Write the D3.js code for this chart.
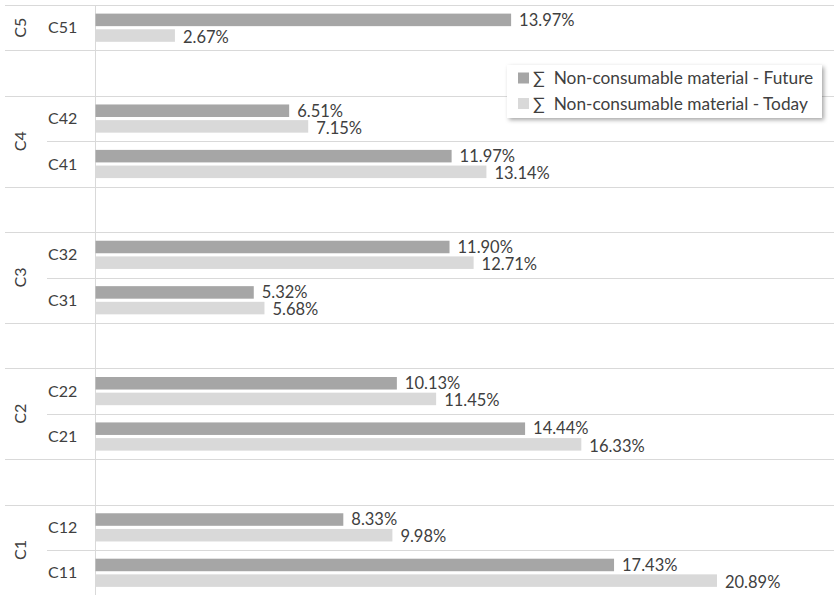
<!DOCTYPE html>
<html>
<head>
<meta charset="utf-8">
<script src="https://cdn.jsdelivr.net/npm/d3@7"></script>
<style>
  html, body { margin: 0; padding: 0; background: #fff; }
  svg { display: block; font-family: Lato, "Noto Sans", sans-serif; }
</style>
</head>
<body>
<svg id="chart" width="834" height="595"></svg>
<script>
// ---- data ----
const groups = ["C5", "C4", "C3", "C2", "C1"];
const categories = ["C51", "C42", "C41", "C32", "C31", "C22", "C21", "C12", "C11"];
const categoryGroup = ["C5", "C4", "C4", "C3", "C3", "C2", "C2", "C1", "C1"];
const futureValues = [13.97, 6.51, 11.97, 11.90, 5.32, 10.13, 14.44, 8.33, 17.43];
const todayValues = [2.67, 7.15, 13.14, 12.71, 5.68, 11.45, 16.33, 9.98, 20.89];
const seriesNames = ["\u2211  Non-consumable material - Future", "\u2211  Non-consumable material - Today"];
const seriesKeys = ["future", "today"];
const seriesColors = ["#a6a6a6", "#d9d9d9"];

// ---- layout ----
const W = 834, H = 595;
const plotLeft = 95.5, plotTop = 5, plotBottom = 595.5;
const svg = d3.select("#chart");

// slots: categories with an empty slot between groups
const slots = [];
groups.forEach((g, gi) => {
  if (gi > 0) slots.push({ id: "gap" + gi, gap: true });
  categories.forEach((c, i) => {
    if (categoryGroup[i] === g) slots.push({ id: c, gap: false, group: g, i });
  });
});

const y = d3.scaleBand().domain(slots.map(s => s.id)).range([plotTop, plotBottom]).padding(0);
const ySub = d3.scaleBand().domain(seriesKeys).range([0, y.bandwidth()]).paddingInner(0.2).paddingOuter(0.55);
const x = d3.scaleLinear().domain([0, 25]).range([plotLeft, plotLeft + 25 * 29.75]);

const grid = "#d9d9d9";
const textColor = "#404040";

// boundaries
const bounds = slots.map((s, k) => ({ y: y(s.id), k })).concat([{ y: plotBottom, k: slots.length }]);
function isInner(k) {
  if (k <= 0 || k >= slots.length) return false;
  const a = slots[k - 1], b = slots[k];
  return !a.gap && !b.gap && a.group === b.group;
}
svg.append("g").selectAll("line").data(bounds).join("line")
  .attr("x1", d => isInner(d.k) ? 47 : 5)
  .attr("x2", W)
  .attr("y1", d => Math.round(d.y) + 0.5)
  .attr("y2", d => Math.round(d.y) + 0.5)
  .attr("stroke", grid).attr("stroke-width", 1);

// vertical axis line
svg.append("line")
  .attr("x1", plotLeft).attr("x2", plotLeft)
  .attr("y1", plotTop).attr("y2", H)
  .attr("stroke", grid).attr("stroke-width", 1);

// bars
const rows = categories.map((c, i) => ({ cat: c, future: futureValues[i], today: todayValues[i] }));
const barG = svg.append("g");
rows.forEach(r => {
  seriesKeys.forEach((k, si) => {
    const y0 = y(r.cat) + ySub(k);
    barG.append("rect")
      .attr("x", x(0))
      .attr("y", y0)
      .attr("width", x(r[k]) - x(0))
      .attr("height", ySub.bandwidth())
      .attr("fill", seriesColors[si]);
    barG.append("text")
      .attr("x", x(r[k]) + 8)
      .attr("y", y0 + ySub.bandwidth() / 2 + (si === 0 ? 0 : 1.5))
      .attr("dy", "0.35em")
      .attr("font-size", 16.5)
      .attr("fill", textColor)
      .text(r[k].toFixed(2) + "%");
  });
});

// category labels
svg.append("g").selectAll("text").data(slots.filter(s => !s.gap)).join("text")
  .attr("x", 48)
  .attr("y", d => y(d.id) + y.bandwidth() / 2)
  .attr("dy", "0.35em")
  .attr("font-size", 16)
  .attr("fill", textColor)
  .text(d => d.id);

// group labels (rotated)
groups.forEach(g => {
  const ss = slots.filter(s => s.group === g);
  const top = y(ss[0].id), bot = y(ss[ss.length - 1].id) + y.bandwidth();
  const cy = (top + bot) / 2;
  svg.append("text")
    .attr("transform", `translate(20,${cy}) rotate(-90)`)
    .attr("text-anchor", "middle")
    .attr("dy", "0.35em")
    .attr("font-size", 16)
    .attr("fill", textColor)
    .text(g);
});

// legend
const defs = svg.append("defs");
const f = defs.append("filter").attr("id", "shadow").attr("x", "-10%").attr("y", "-20%").attr("width", "130%").attr("height", "160%");
f.append("feDropShadow").attr("dx", 2).attr("dy", 2).attr("stdDeviation", 2).attr("flood-color", "#000").attr("flood-opacity", 0.35);

const lg = svg.append("g");
lg.append("rect")
  .attr("x", 507).attr("y", 65).attr("width", 315).attr("height", 53)
  .attr("fill", "#fff").attr("filter", "url(#shadow)");
seriesNames.forEach((name, i) => {
  const cy = 78 + i * 25.5;
  lg.append("rect").attr("x", 518).attr("y", cy - 5.5).attr("width", 11).attr("height", 11).attr("fill", seriesColors[i]);
  lg.append("text")
    .attr("x", 533).attr("y", cy).attr("dy", "0.35em")
    .attr("font-size", 17.3).attr("fill", textColor)
    .style("white-space", "pre")
    .text(name);
});
</script>
</body>
</html>
